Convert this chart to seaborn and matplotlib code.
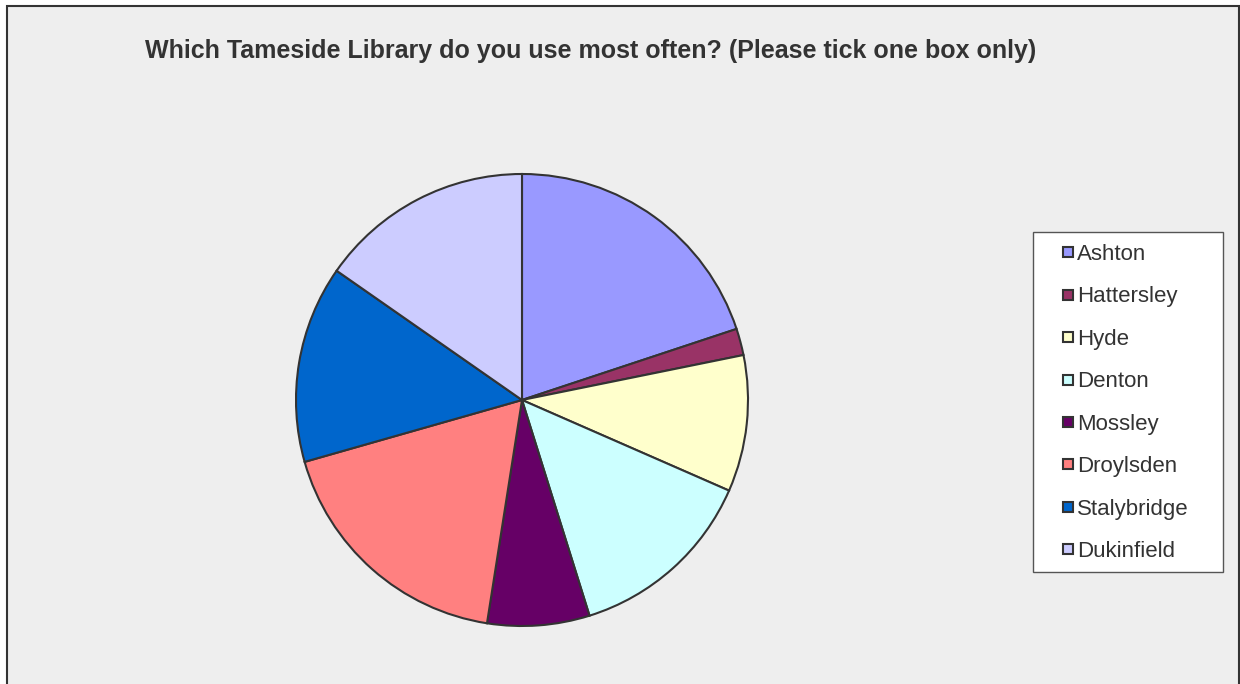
import matplotlib
matplotlib.use("Agg")
import matplotlib.pyplot as plt
from matplotlib.patches import Rectangle
from matplotlib.lines import Line2D
import seaborn as sns

libraries = ["Ashton", "Hattersley", "Hyde", "Denton", "Mossley", "Droylsden", "Stalybridge", "Dukinfield"]
shares = [19.9, 1.9, 9.75, 13.6, 7.3, 18.1, 14.1, 15.3]
colors = ["#9999FF", "#993366", "#FFFFCC", "#CCFFFF", "#660066", "#FF8080", "#0066CC", "#CCCCFF"]
title = "Which Tameside Library do you use most often? (Please tick one box only)"

sns.set_theme(style="white")
plt.rcParams["font.family"] = ["Liberation Sans", "DejaVu Sans"]

W, H = 1240, 684
fig = plt.figure(figsize=(W / 100, H / 100), dpi=100, facecolor="white")

# chart area background
fig.patches.append(Rectangle((7 / W, -0.02), (1239 - 7) / W, (H - 6) / H + 0.02,
                             transform=fig.transFigure, facecolor="#EEEEEE",
                             edgecolor="#333333", linewidth=1.5, zorder=-10))

cx, cy, r = 522, H - 400, 226
ax = fig.add_axes([(cx - r) / W, (cy - r) / H, 2 * r / W, 2 * r / H])
ax.set_facecolor("none")
ax.set_zorder(2)
palette = sns.color_palette(colors)
ax.pie(shares, colors=palette, startangle=90, counterclock=False, radius=1,
       wedgeprops=dict(edgecolor="#333333", linewidth=1.5))
ax.set_xlim(-1, 1)
ax.set_ylim(-1, 1)
ax.set_aspect("equal")
ax.axis("off")

fig.text(591 / W, 1 - 51 / H, title, ha="center", va="center",
         fontsize=18, fontweight="bold", color="#333333")

# legend frame
fig.patches.append(Rectangle((1033 / W, 1 - 572 / H), (1223 - 1033) / W, (572 - 232) / H,
                             transform=fig.transFigure, facecolor="white",
                             edgecolor="#555555", linewidth=1.0, zorder=1))
handles = [Line2D([], [], linestyle="none", marker="s", markersize=7.5,
                  markerfacecolor=c, markeredgecolor="#333333", markeredgewidth=1.5)
           for c in palette]
leg = fig.legend(handles, libraries, loc="upper left",
                 bbox_to_anchor=(1061 / W, 1 - 244 / H), frameon=False,
                 fontsize=16, labelspacing=0.965, handlelength=0.6,
                 handletextpad=0.12, borderaxespad=0, borderpad=0)
leg.set_zorder(3)
for t in leg.get_texts():
    t.set_color("#333333")

fig.savefig("out.png", dpi=100, facecolor="white")
